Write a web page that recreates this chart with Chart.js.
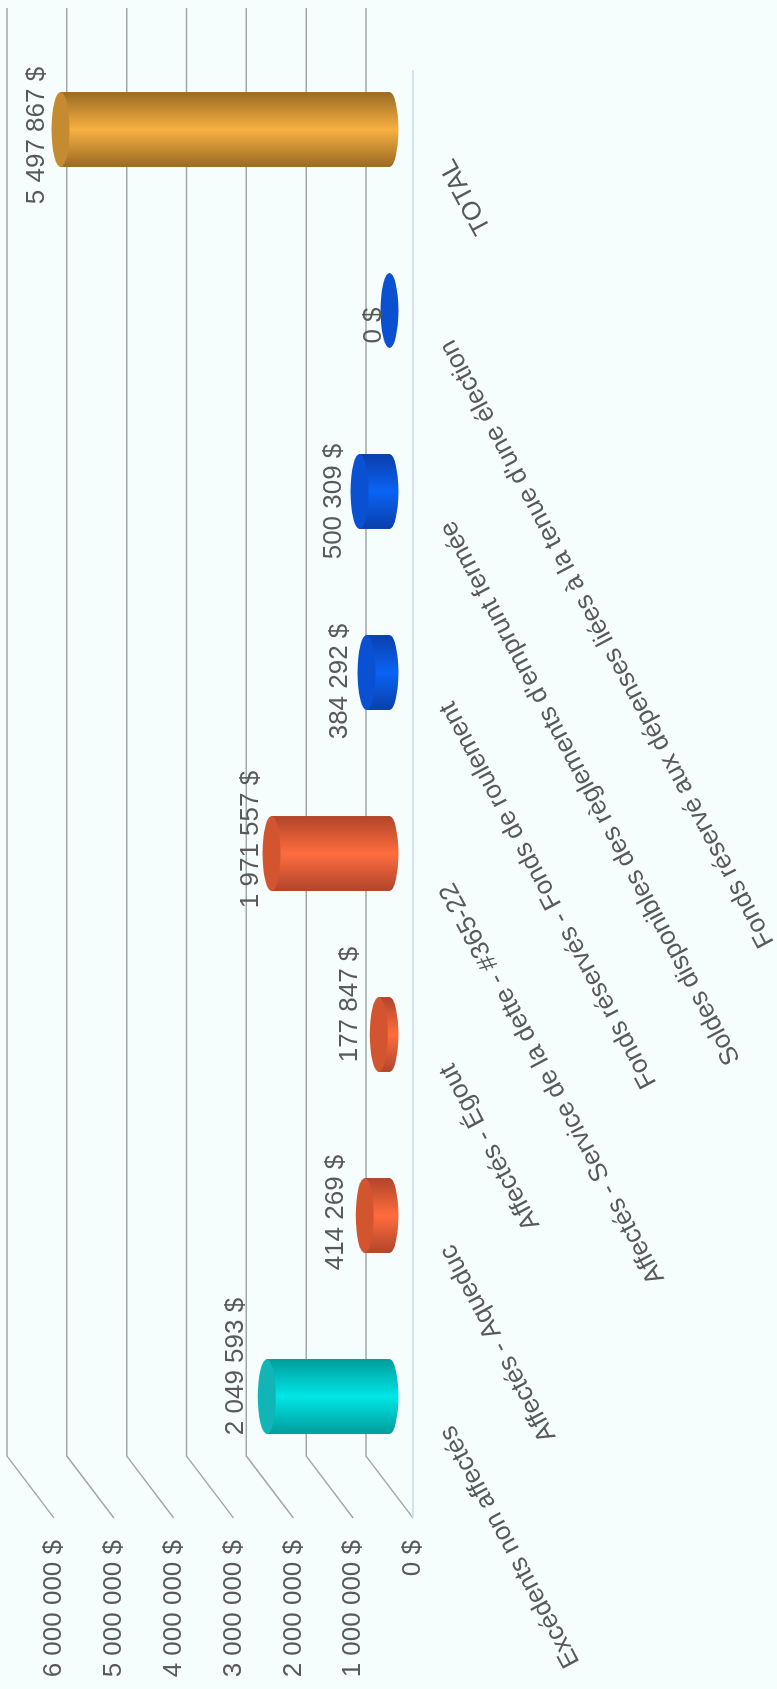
<!DOCTYPE html>
<html lang="fr">
<head>
<meta charset="utf-8">
<title>Excédents et fonds réservés</title>
<script src="https://cdn.jsdelivr.net/npm/chart.js@4/dist/chart.umd.min.js"></script>
<style>
  html, body { margin: 0; padding: 0; background: #F5FEFD; overflow: hidden; }
  body { width: 777px; height: 1689px; position: relative; }
  /* the chart is laid out landscape and turned a quarter turn counter-clockwise */
  #wrap {
    position: absolute; left: 0; top: 0;
    width: 1689px; height: 777px;
    transform-origin: 0 0;
    transform: translate(0, 1689px) rotate(-90deg);
  }
  canvas { display: block; }
</style>
</head>
<body>
<div id="wrap"><canvas id="chart" width="1689" height="777"></canvas></div>
<script>
// ---- data ----
const categories = [
  'Excédents non affectés',
  'Affectés - Aqueduc',
  'Affectés - Égout',
  'Affectés - Service de la dette - #365-22',
  'Fonds réservés - Fonds de roulement',
  "Soldes disponibles des règlements d'emprunt fermée",
  "Fonds réservé aux dépenses liées à la tenue d'une élection",
  'TOTAL'
];
const amounts = [2049593, 414269, 177847, 1971557, 384292, 500309, 0, 5497867];
const axisMin = 0;
const axisMax = 6000000;
const axisStep = 1000000;

// ---- styles ----
const TEAL   = { light: '#00E6E6', dark: '#009C9C', cap: '#12B5B5', flat: '#12B5B5' };
const RED    = { light: '#FF6C3E', dark: '#B0452A', cap: '#D2552F', flat: '#D2552F' };
const BLUE   = { light: '#0A63F5', dark: '#0A3FAA', cap: '#0A50D2', flat: '#0A50D0' };
const ORANGE = { light: '#F7B042', dark: '#9A6A22', cap: '#C48B30', flat: '#C48B30' };
const barColors = [TEAL, RED, RED, RED, BLUE, BLUE, BLUE, ORANGE];

// small hand placement of the value labels (px, along / across the bars)
const labelNudgeX = [30, 3, 30, 14, -9, -10, -15, -6];
const labelNudgeY = [-2, 0, 0, 8, 2, 3, 0, 5];

const FONT = "'Liberation Sans', Arial, sans-serif";
const TEXT_COLOR = '#595959';
const GRID_COLOR = '#A2A7AC';
const FLOOR_EDGE = '#C9D8F2';
const DEPTH_X = 62;   // receding depth of the 3D box, to the right
const DEPTH_Y = 47;   // and upward
const CAP_RY = 9;     // half-height of the cylinder end ellipses

function money(v) {
  return String(Math.round(v)).replace(/\B(?=(\d{3})+(?!\d))/g, ' ') + ' $';
}

// Back wall + side wall grid, floor edge, cylinders and their value labels
const depthPlugin = {
  id: 'depth3d',
  beforeDatasetsDraw(chart) {
    const { ctx, chartArea: a, scales: { y } } = chart;
    ctx.save();
    ctx.lineWidth = 1.5;
    ctx.strokeStyle = GRID_COLOR;
    y.ticks.forEach(t => {
      const yf = y.getPixelForValue(t.value);
      ctx.beginPath();
      ctx.moveTo(a.left, yf);
      ctx.lineTo(a.left + DEPTH_X, yf - DEPTH_Y);
      ctx.lineTo(a.right + DEPTH_X, yf - DEPTH_Y);
      ctx.stroke();
    });
    const y0 = y.getPixelForValue(axisMin);
    ctx.strokeStyle = FLOOR_EDGE;
    ctx.beginPath();
    ctx.moveTo(a.left, y0);
    ctx.lineTo(a.right, y0);
    ctx.stroke();
    ctx.restore();
  },
  afterDatasetsDraw(chart) {
    const { ctx } = chart;
    const meta = chart.getDatasetMeta(0);
    const values = chart.data.datasets[0].data;
    ctx.save();
    meta.data.forEach((bar, i) => {
      const c = barColors[i];
      const cx = bar.x + DEPTH_X / 2;
      const rx = bar.width / 2;
      const top = bar.y - DEPTH_Y / 2;
      const bottom = bar.base - DEPTH_Y / 2;
      const hasHeight = bottom - top > 0.5;

      if (hasHeight) {
        const g = ctx.createLinearGradient(cx - rx, 0, cx + rx, 0);
        g.addColorStop(0, c.dark);
        g.addColorStop(0.5, c.light);
        g.addColorStop(1, c.dark);
        ctx.beginPath();
        ctx.moveTo(cx - rx, top);
        ctx.lineTo(cx - rx, bottom);
        ctx.ellipse(cx, bottom, rx, CAP_RY, 0, Math.PI, 0, true);
        ctx.lineTo(cx + rx, top);
        ctx.closePath();
        ctx.fillStyle = g;
        ctx.fill();
      }
      ctx.beginPath();
      ctx.ellipse(cx, top, rx, CAP_RY, 0, 0, Math.PI * 2);
      ctx.fillStyle = hasHeight ? c.cap : c.flat;
      ctx.fill();

      ctx.font = '26px ' + FONT;
      ctx.fillStyle = TEXT_COLOR;
      ctx.textAlign = 'center';
      ctx.textBaseline = 'middle';
      ctx.fillText(money(values[i]),
        cx + labelNudgeX[i],
        top - (hasHeight ? 29 : 16) + labelNudgeY[i]);
    });
    ctx.restore();
  }
};

new Chart(document.getElementById('chart'), {
  type: 'bar',
  data: {
    labels: categories,
    datasets: [{
      data: amounts,
      backgroundColor: 'rgba(0,0,0,0)',
      borderWidth: 0,
      categoryPercentage: 1,
      barPercentage: 0.414
    }]
  },
  options: {
    responsive: false,
    animation: false,
    devicePixelRatio: 1,
    layout: { padding: { top: 54, right: 70, left: 0, bottom: 0 } },
    plugins: { legend: { display: false }, tooltip: { enabled: false } },
    scales: {
      x: {
        grid: { display: false, drawTicks: false },
        border: { display: false },
        ticks: {
          autoSkip: false,
          minRotation: 28,
          maxRotation: 28,
          padding: 20,
          color: TEXT_COLOR,
          font: { family: FONT, size: 26 }
        },
        afterFit(s) {
          s.height = 364;
          // the slanted labels may run past the plot's left edge; keep the plot fixed
          s.paddingLeft = 0;
          s.paddingRight = 0;
        }
      },
      y: {
        min: axisMin,
        max: axisMax,
        grid: { display: false, drawTicks: false },
        border: { display: false },
        ticks: {
          stepSize: axisStep,
          padding: 22,
          color: TEXT_COLOR,
          font: { family: FONT, size: 26 },
          callback: v => money(v)
        },
        afterFit(s) { s.width = 171; }
      }
    }
  },
  plugins: [depthPlugin]
});
</script>
</body>
</html>
